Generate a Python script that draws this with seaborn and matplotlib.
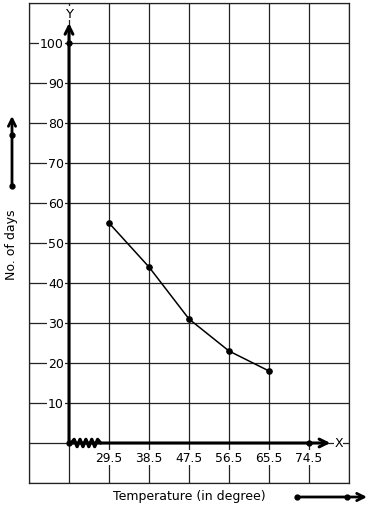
import numpy as np
import pandas as pd
import matplotlib
matplotlib.use("Agg")
import matplotlib.pyplot as plt
import seaborn as sns

# ---- data ----
temperature = [29.5, 38.5, 47.5, 56.5, 65.5]
days = [55, 44, 31, 23, 18]
x_tick_values = [29.5, 38.5, 47.5, 56.5, 65.5, 74.5]
x_tick_labels = ["29.5", "38.5", "47.5", "56.5", "65.5", "74.5"]
y_tick_values = [10, 20, 30, 40, 50, 60, 70, 80, 90, 100]
y_tick_labels = ["10", "20", "30", "40", "50", "60", "70", "80", "90", "100"]
x_label = "Temperature (in degree)"
y_label = "No. of days"

sns.set_style("white")
plt.rcParams['font.family'] = ['DejaVu Sans']
plt.rcParams['text.color'] = 'black'

W, H = 371, 510
fig = plt.figure(figsize=(W / 100, H / 100), dpi=100)
ax = fig.add_axes([29 / W, (H - 484) / H, 320 / W, 480 / H])

x_origin = 20.5
ax.set_xlim(11.5, 83.5)
ax.set_ylim(-10, 110)

# grid
for gx in np.arange(11.5, 83.6, 9):
    ax.axvline(gx, color="#222222", lw=0.9, zorder=1)
for gy in np.arange(-10, 110.1, 10):
    ax.axhline(gy, color="#222222", lw=0.9, zorder=1)
for s in ax.spines.values():
    s.set_color("#222222")
    s.set_linewidth(0.9)
ax.set_xticks([])
ax.set_yticks([])

# axes arrows
ax.annotate("", xy=(x_origin, 105.0), xytext=(x_origin, 0),
            arrowprops=dict(arrowstyle="->", lw=2.2, color="black",
                            mutation_scale=14, shrinkA=0, shrinkB=0), zorder=4)
ax.annotate("", xy=(79.3, 0), xytext=(x_origin, 0),
            arrowprops=dict(arrowstyle="->", lw=2.2, color="black",
                            mutation_scale=14, shrinkA=0, shrinkB=0), zorder=4)
ax.text(x_origin, 107.4, "Y", ha="center", va="center", fontsize=9.5, color="black",
        bbox=dict(facecolor="white", edgecolor="none", pad=0.4), zorder=3)
ax.text(81.2, 0.2, "X", ha="center", va="center", fontsize=9, color="black",
        bbox=dict(facecolor="white", edgecolor="none", pad=0.3), zorder=5)

# dots on axes
ax.plot([x_origin, x_origin, 74.5], [100, 0, 0], "o", color="black", ms=3.5, zorder=6)

# zigzag (kink) on x axis
zx = np.linspace(21.0, 27.6, 11)
zy = np.array([0, 1, -1, 1, -1, 1, -1, 1, -1, 1, 0]) * 0.9
ax.plot(zx, zy, color="black", lw=2.4, zorder=5)

# tick labels
for v, lab in zip(y_tick_values, y_tick_labels):
    ax.text(x_origin - 1.15, v, lab, ha="right", va="center", fontsize=9, color="black",
            bbox=dict(facecolor="white", edgecolor="none", pad=0.6), zorder=3)
for v, lab in zip(x_tick_values, x_tick_labels):
    ax.text(v, -3.6, lab, ha="center", va="center", fontsize=8.8, color="black",
            bbox=dict(facecolor="white", edgecolor="none", pad=0.6), zorder=3)

# data line
df = pd.DataFrame({"temperature": temperature, "days": days})
sns.lineplot(data=df, x="temperature", y="days", ax=ax, color="black",
             lw=1.1, marker="o", markersize=4, markeredgecolor="black", zorder=5)
ax.set_xlabel("")
ax.set_ylabel("")
ax.set_xlim(11.5, 83.5)
ax.set_ylim(-10, 110)


def px(x, y):
    return (x / W, 1 - y / H)


# axis labels
fig.text(*px(189, 497), x_label, ha="center", va="center", fontsize=9, color="black")
fig.text(*px(12, 245), y_label, ha="center", va="center", fontsize=9, rotation=90,
         color="black")

# label arrows (outside axes)
fig.add_artist(matplotlib.patches.FancyArrowPatch(px(12, 187), px(12, 117),
               transform=fig.transFigure, arrowstyle="->", lw=2.0,
               mutation_scale=13, color="black", shrinkA=0, shrinkB=0))
fig.add_artist(matplotlib.patches.FancyArrowPatch(px(297, 498), px(367, 498),
               transform=fig.transFigure, arrowstyle="->", lw=2.0,
               mutation_scale=13, color="black", shrinkA=0, shrinkB=0))
for (a, b) in [(12, 187), (12, 136), (297, 498), (347, 498)]:
    fig.add_artist(matplotlib.lines.Line2D([a / W], [1 - b / H], marker="o",
                   ms=3.5, color="black", transform=fig.transFigure))

fig.savefig("out.png", dpi=100, facecolor="white")
